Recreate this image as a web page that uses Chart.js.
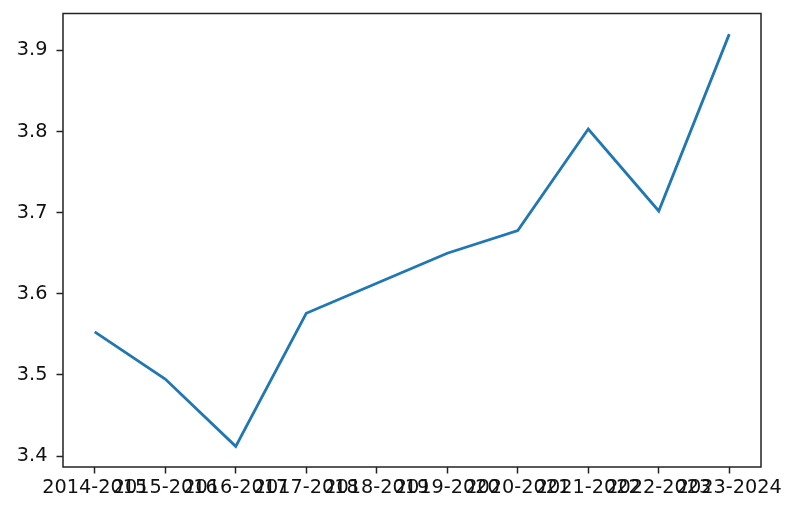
<!DOCTYPE html>
<html>
<head>
<meta charset="utf-8">
<script src="https://cdn.jsdelivr.net/npm/chart.js@4/dist/chart.umd.min.js"></script>
<style>
  html, body { margin: 0; padding: 0; background: #fff; }
  #wrap { width: 800px; height: 517px; }
</style>
</head>
<body>
<div id="wrap"><canvas id="chart" width="800" height="517"></canvas></div>
<script>
const seasons = ['2014-2015', '2015-2016', '2016-2017', '2017-2018', '2018-2019',
                 '2019-2020', '2020-2021', '2021-2022', '2022-2023', '2023-2024'];
const values = [3.553, 3.495, 3.412, 3.576, 3.613, 3.650, 3.678, 3.803, 3.702, 3.920];
const yTicks = [3.4, 3.5, 3.6, 3.7, 3.8, 3.9];

const fontSpec = { family: 'DejaVu Sans', size: 19.3 };
const inkColor = '#111';

// matplotlib style box round the plot area
const frame = {
    id: 'frame',
    afterDraw(chart) {
        const a = chart.chartArea;
        const ctx = chart.ctx;
        ctx.save();
        ctx.strokeStyle = '#222';
        ctx.lineWidth = 1.5;
        ctx.strokeRect(a.left, a.top, a.right - a.left, a.bottom - a.top);
        ctx.restore();
    }
};

// 5% margins like matplotlib
const yLo = Math.min(...values), yHi = Math.max(...values);
const yPad = (yHi - yLo) * 0.05;
const xPad = (seasons.length - 1) * 0.05;

new Chart(document.getElementById('chart'), {
    type: 'line',
    data: {
        datasets: [{
            data: values.map((v, i) => ({ x: i, y: v })),
            borderColor: '#1f77b4',
            borderWidth: 2.8,
            pointRadius: 0,
            tension: 0,
            fill: false
        }]
    },
    options: {
        responsive: false,
        animation: false,
        layout: { padding: { top: 0, right: 39, left: 0, bottom: 0 } },
        plugins: { legend: { display: false }, tooltip: { enabled: false } },
        scales: {
            x: {
                type: 'linear',
                min: -xPad,
                max: seasons.length - 1 + xPad,
                afterFit: (s) => { s.height = 50; },
                grid: { drawOnChartArea: false, drawTicks: true, tickLength: 6.5, tickColor: '#222', tickWidth: 1.5 },
                border: { display: false },
                ticks: {
                    stepSize: 1,
                    includeBounds: false,
                    autoSkip: false,
                    maxRotation: 0,
                    minRotation: 0,
                    padding: 3,
                    color: inkColor,
                    font: fontSpec,
                    callback: (v) => Number.isInteger(v) ? seasons[v] : ''
                }
            },
            y: {
                min: yLo - yPad,
                max: yHi + yPad,
                afterFit: (s) => { s.width = 63; s.paddingTop = 13.5; },
                afterBuildTicks: (s) => { s.ticks = yTicks.map(v => ({ value: v })); },
                grid: { drawOnChartArea: false, drawTicks: true, tickLength: 6.5, tickColor: '#222', tickWidth: 1.5 },
                border: { display: false },
                ticks: {
                    padding: 9,
                    color: inkColor,
                    font: fontSpec,
                    callback: (v) => v.toFixed(1)
                }
            }
        }
    },
    plugins: [frame]
});
</script>
</body>
</html>
